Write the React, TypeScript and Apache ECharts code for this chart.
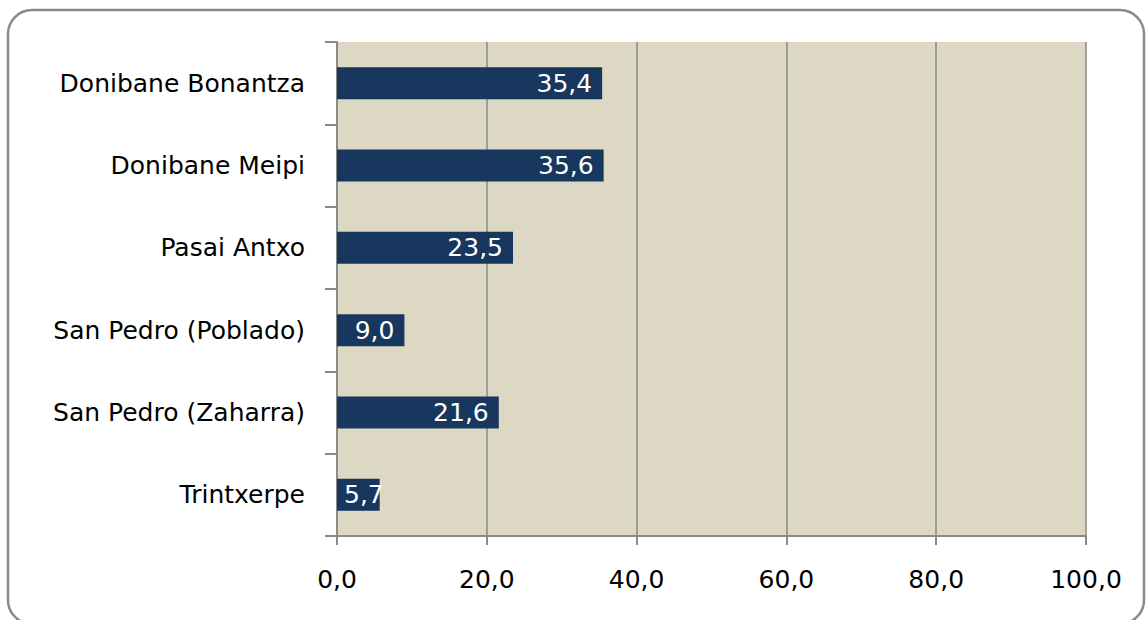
import React, { useEffect, useRef } from "react";
import * as echarts from "echarts";

// Neighbourhood names, top to bottom
const categories = [
  "Donibane Bonantza",
  "Donibane Meipi",
  "Pasai Antxo",
  "San Pedro (Poblado)",
  "San Pedro (Zaharra)",
  "Trintxerpe",
];

// Percentage per neighbourhood
const values = [35.4, 35.6, 23.5, 9.0, 21.6, 5.7];

// Horizontal axis range
const axisMin = 0;
const axisMax = 100;
const axisStep = 20;

const fmt = (v: number) => v.toFixed(1).replace(".", ",");

export default function App() {
  const ref = useRef<HTMLDivElement>(null);

  useEffect(() => {
    document.body.style.margin = "0";
    if (!ref.current) return;
    const chart = echarts.init(ref.current, undefined, { renderer: "svg" });
    const font = "DejaVu Sans";
    const gray = "#8a8a8a";
    const fs = 25;

    // Short bars cannot hold their label at the end, so it starts at the bar's base instead
    const barData = values.map((v) => ({
      value: v,
      label: v < 8 ? { position: "insideLeft", distance: 7 } : undefined,
    }));

    chart.setOption({
      animation: false,
      backgroundColor: "#ffffff",
      textStyle: { fontFamily: font },
      graphic: [
        {
          type: "rect",
          shape: { x: 8, y: 10, width: 1136, height: 614, r: 24 },
          style: { fill: "none", stroke: gray, lineWidth: 2.5 },
          z: -1,
        },
      ],
      grid: {
        left: 337,
        right: 61,
        top: 42,
        bottom: 84,
        show: true,
        backgroundColor: "#ddd8c3",
        borderWidth: 0,
      },
      xAxis: {
        type: "value",
        min: axisMin,
        max: axisMax,
        interval: axisStep,
        axisLine: { show: true, lineStyle: { color: gray, width: 2 } },
        axisTick: { show: true, length: 9, lineStyle: { color: gray, width: 2 } },
        splitLine: { show: true, lineStyle: { color: gray, width: 1.5 } },
        axisLabel: {
          formatter: (v: number) => fmt(v),
          color: "#000",
          fontFamily: font,
          fontSize: fs,
          margin: 31,
        },
      },
      yAxis: {
        type: "category",
        data: categories,
        inverse: true,
        axisLine: { show: true, lineStyle: { color: gray, width: 2 } },
        axisTick: { show: true, length: 12, lineStyle: { color: gray, width: 2 } },
        splitLine: { show: false },
        axisLabel: {
          color: "#000",
          fontFamily: font,
          fontSize: fs,
          margin: 32,
        },
      },
      series: [
        {
          type: "bar",
          data: barData,
          barWidth: 32,
          itemStyle: { color: "#17375e" },
          label: {
            show: true,
            position: "insideRight",
            distance: 10,
            color: "#ffffff",
            fontFamily: font,
            fontSize: fs,
            formatter: (p: any) => fmt(p.value),
          },
        },
      ],
    });
    return () => chart.dispose();
  }, []);

  return (
    <div
      ref={ref}
      style={{ position: "absolute", left: 0, top: 0, width: 1147, height: 620 }}
    />
  );
}
